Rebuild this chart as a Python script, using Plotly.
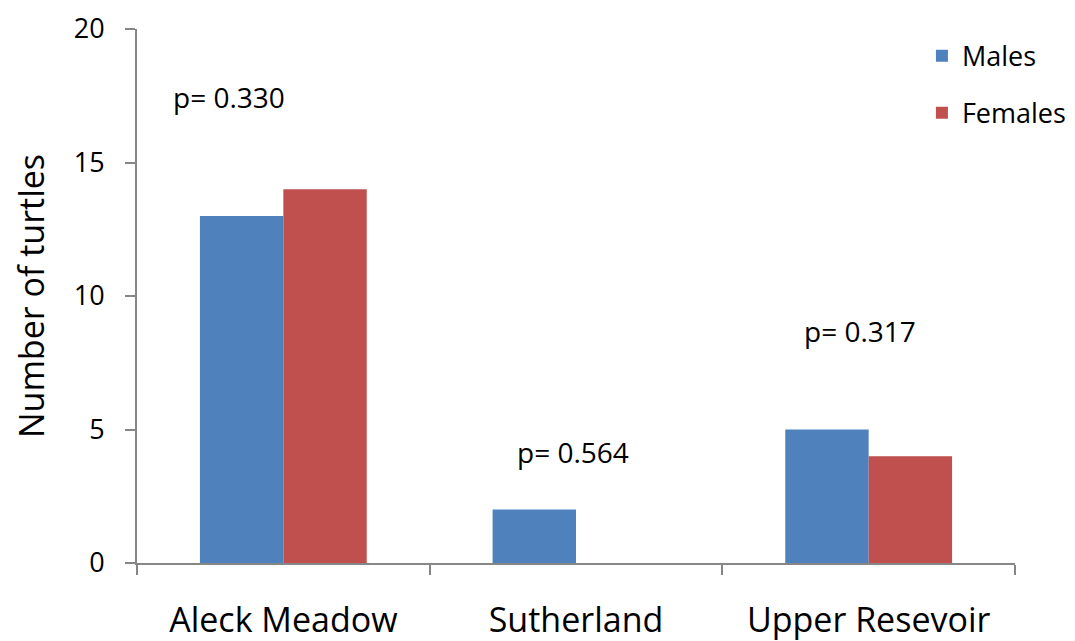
import plotly.graph_objects as go

categories = ["Aleck Meadow", "Sutherland", "Upper Resevoir"]
males = [13, 2, 5]
females = [14, 0, 4]
p_labels = ["p= 0.330", "p= 0.564", "p= 0.317"]
p_x = [-0.185, 0.99, 1.97]
p_y = [17.45, 4.16, 8.7]

font_family = "Open Sans, Liberation Sans, sans-serif"

fig = go.Figure()
fig.add_trace(go.Bar(x=categories, y=males, name="Males", marker_color="#4F81BD",
                     marker_line_width=0, legendgroup="m"))
fig.add_trace(go.Bar(x=categories, y=females, name="Females", marker_color="#C0504D",
                     marker_line_width=0, legendgroup="f"))

for t, xx, yy in zip(p_labels, p_x, p_y):
    fig.add_annotation(x=xx, y=yy, text=t, showarrow=False, xref="x", yref="y",
                       font=dict(size=28, color="black", family=font_family))

fig.update_layout(
    width=1075, height=641,
    margin=dict(l=129, r=68, t=21, b=86, autoexpand=False),
    plot_bgcolor="white", paper_bgcolor="white",
    barmode="group", bargap=0.43, bargroupgap=0,
    font=dict(family=font_family, color="black"),
    legend=dict(x=0.894, y=0.995, xanchor="left", yanchor="top",
                font=dict(size=27), tracegroupgap=19, itemwidth=30,
                bgcolor="rgba(0,0,0,0)"),
    showlegend=True,
)
fig.update_xaxes(
    automargin=False,
    showline=True, linecolor="#868686", linewidth=2,
    ticks="outside", tickson="boundaries", ticklen=10, tickwidth=2, tickcolor="#868686",
    tickfont=dict(size=34), ticklabelstandoff=26,
    showgrid=False, zeroline=False,
)
fig.update_yaxes(
    automargin=False,
    range=[0, 20], tickvals=[0, 5, 10, 15, 20],
    showline=True, linecolor="#868686", linewidth=2,
    ticks="outside", ticklen=10, tickwidth=2, tickcolor="#868686",
    tickfont=dict(size=27), ticklabelstandoff=15, ticklabeloverflow="allow",
    showgrid=False, zeroline=False,
    title=dict(text="Number of turtles", font=dict(size=34), standoff=28),
)

fig.write_html("out.html")
